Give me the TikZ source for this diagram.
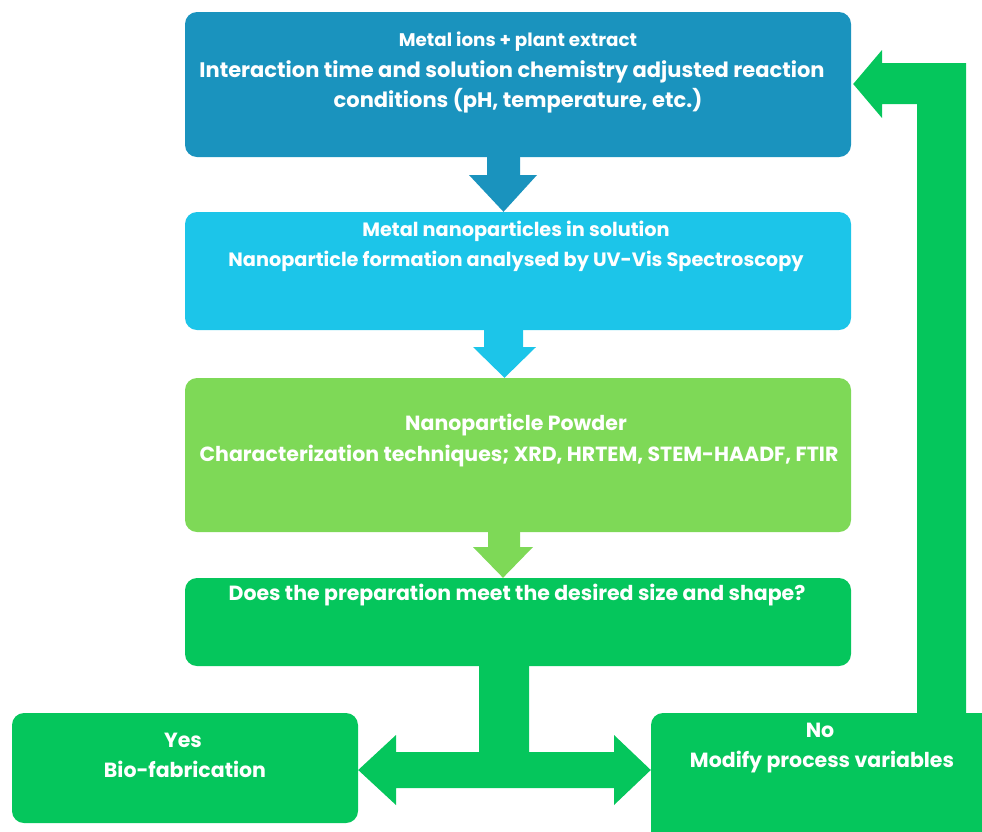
\documentclass[tikz,border=0pt]{standalone}
\usepackage{fontspec}
\setmainfont{Poppins}
\usetikzlibrary{calc}
\definecolor{cone}{HTML}{1A93BE}
\definecolor{ctwo}{HTML}{1CC5E9}
\definecolor{cthree}{HTML}{7ED957}
\definecolor{cfour}{HTML}{05C65C}
\begin{document}
\begin{tikzpicture}[x=1pt,y=-1pt,
  boxshape/.style={rectangle,rounded corners=12pt,inner sep=0pt,draw=none},
  txtbase/.style={text=white,align=center,inner sep=0pt},
  txt/.style={txtbase,font=\bfseries\fontsize{20.5}{24}\selectfont},
  bigtxt/.style={txtbase,font=\bfseries\fontsize{21}{24}\selectfont},
  midtxt/.style={txtbase,font=\bfseries\fontsize{19.3}{22}\selectfont},
  smalltxt/.style={txtbase,font=\bfseries\fontsize{18.3}{21}\selectfont}]
\useasboundingbox (0,0) rectangle (982,831);
\clip (0,0) rectangle (982,831);
% boxes
\node[boxshape,fill=cone,minimum width=666pt,minimum height=145pt] (b1) at (518,84.5) {};
\node[boxshape,fill=ctwo,minimum width=666pt,minimum height=118pt] (b2) at (518,271) {};
\node[boxshape,fill=cthree,minimum width=666pt,minimum height=154pt] (b3) at (518,455) {};
\node[boxshape,fill=cfour,minimum width=666pt,minimum height=88pt] (b4) at (518,622) {};
\node[boxshape,fill=cfour,minimum width=346pt,minimum height=110pt] (yes) at (185,768) {};
\node[boxshape,fill=cfour,minimum width=344pt,minimum height=132pt] (no) at (823,779) {};
% texts
\node[smalltxt] (t1a) at (518,42) {Metal ions + plant extract};
\node[bigtxt] (t1b) at (512,72) {Interaction time and solution chemistry adjusted reaction};
\node[bigtxt] (t1c) at (518,101) {conditions (pH, temperature, etc.)};
\node[midtxt] (t2a) at (516,231) {Metal nanoparticles in solution};
\node[midtxt] (t2b) at (516,261) {Nanoparticle formation analysed by UV-Vis Spectroscopy};
\node[txt] (t3a) at (516,425) {Nanoparticle Powder};
\node[txt] (t3b) at (519,456) {Characterization techniques; XRD, HRTEM, STEM-HAADF, FTIR};
\node[txt] (t4) at (517,595) {Does the preparation meet the desired size and shape?};
\node[txt] (ty1) at (183,740) {Yes};
\node[txt] (ty2) at (185,769) {Bio-fabrication};
\node[txt] (tn1) at (820,730) {No};
\node[txt] (tn2) at (822,762) {Modify process variables};
% down arrows
\fill[cone] (487,0 |- b1.south) -- (487,175) -- (469,175) -- (503.5,0 |- b2.north) -- (537,175) -- (520,175) -- (520,0 |- b1.south) -- cycle;
\fill[ctwo] (484,0 |- b2.south) -- (484,347) -- (473,347) -- (504.5,0 |- b3.north) -- (536,347) -- (523,347) -- (523,0 |- b2.south) -- cycle;
\fill[cthree] (488,0 |- b3.south) -- (488,547) -- (473,547) -- (503,0 |- b4.north) -- (533,547) -- (520,547) -- (520,0 |- b3.south) -- cycle;
% decision branch
\fill[cfour] (479,0 |- b4.south) -- (479,752) -- (396,752) -- (396,735) -- (yes.east |- 0,770) -- (396,805) -- (396,788)
  -- (614,788) -- (614,805) -- (no.west |- 0,770) -- (614,735) -- (614,752) -- (529,752) -- (529,0 |- b4.south) -- cycle;
% loop back
\fill[cfour] (917,0 |- no.north) -- (917,104) -- (882,104) -- (882,118) -- ($(b1.east |- 0,84)+(2,0)$) -- (882,50) -- (882,63)
  -- (966,63) -- (966,0 |- no.north) -- cycle;
\end{tikzpicture}
\end{document}
